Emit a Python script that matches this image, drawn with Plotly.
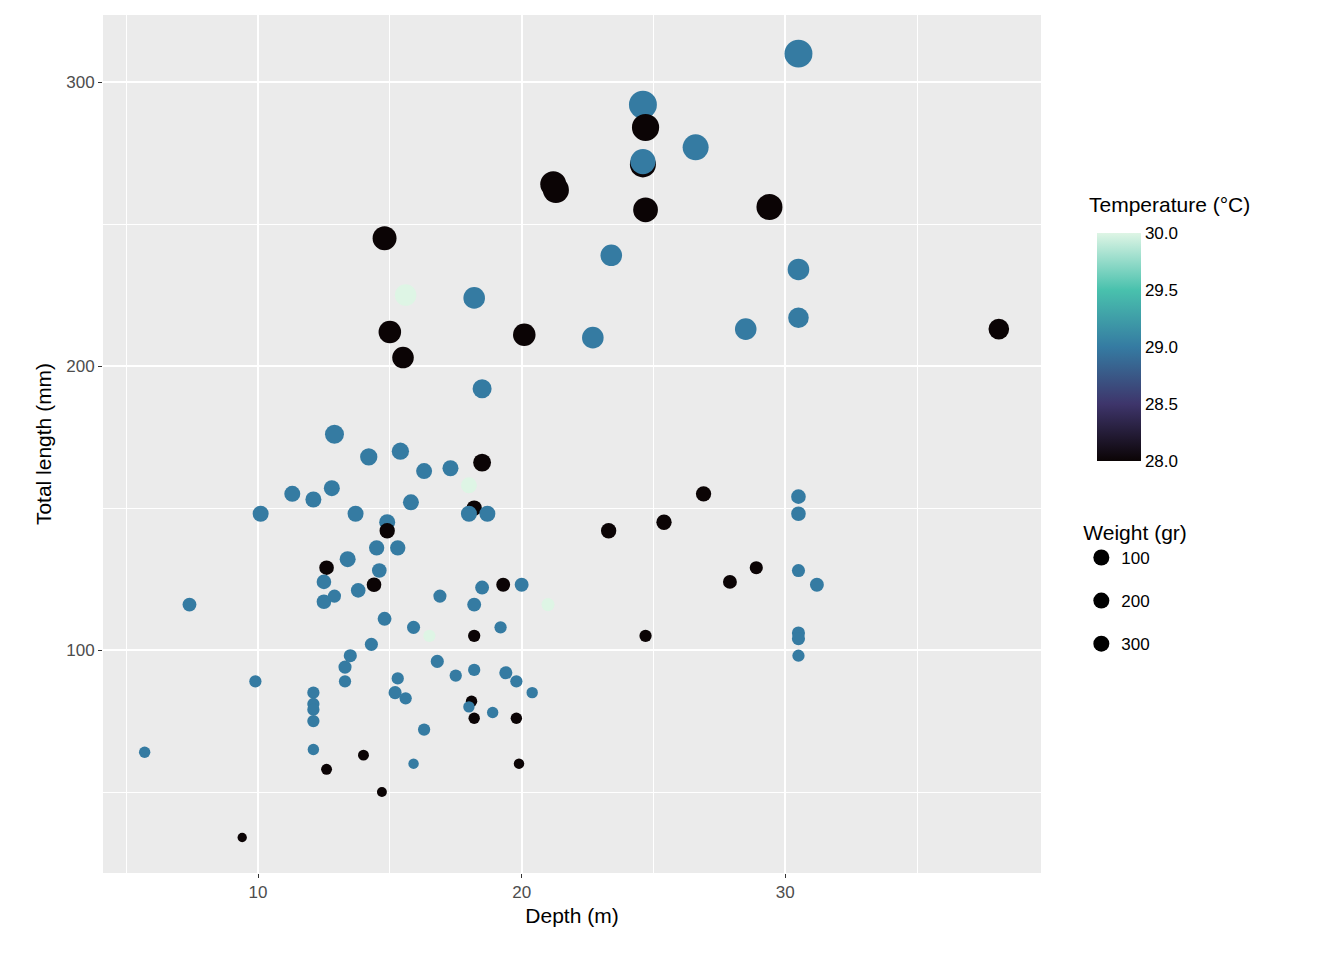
import numpy as np
import plotly.graph_objects as go

# depth (m), total length (mm), temperature (°C), weight (gr)
depth = [30.5, 24.6, 24.7, 24.6, 24.6, 26.6, 21.2, 21.3, 24.7, 29.4,
         14.8, 23.4, 30.5, 15.6, 18.2, 30.5, 28.5, 38.1, 15.0, 20.1,
         22.7, 15.5, 18.5, 12.9, 14.2, 15.4, 16.3, 17.3, 18.5, 18.0,
         11.3, 12.1, 12.8, 10.1, 13.7, 15.8, 14.9, 14.9, 18.2, 18.0,
         18.7, 26.9, 25.4, 23.3, 30.5, 30.5, 14.5, 15.3, 13.4, 12.6,
         14.6, 12.5, 14.4, 13.8, 12.5, 12.9, 7.4, 14.8, 16.9, 18.5,
         18.2, 19.3, 20.0, 21.0, 27.9, 28.9, 30.5, 31.2, 30.5, 30.5,
         30.5, 15.9, 14.3, 16.5, 18.2, 19.2, 24.7, 13.5, 13.3, 13.3,
         9.9, 16.8, 17.5, 18.2, 19.4, 19.8, 20.4, 15.3, 15.2, 15.6,
         12.1, 12.1, 12.1, 12.1, 18.1, 18.0, 18.2, 18.9, 19.8, 16.3,
         12.1, 5.7, 14.0, 12.6, 15.9, 19.9, 14.7, 9.4]
length = [310, 292, 284, 271, 272, 277, 264, 262, 255, 256,
          245, 239, 234, 225, 224, 217, 213, 213, 212, 211,
          210, 203, 192, 176, 168, 170, 163, 164, 166, 158,
          155, 153, 157, 148, 148, 152, 145, 142, 150, 148,
          148, 155, 145, 142, 154, 148, 136, 136, 132, 129,
          128, 124, 123, 121, 117, 119, 116, 111, 119, 122,
          116, 123, 123, 116, 124, 129, 128, 123, 106, 104,
          98, 108, 102, 105, 105, 108, 105, 98, 94, 89,
          89, 96, 91, 93, 92, 89, 85, 90, 85, 83,
          85, 81, 79, 75, 82, 80, 76, 78, 76, 72,
          65, 64, 63, 58, 60, 60, 50, 34]
temp = [29, 29, 28, 28, 29, 29, 28, 28, 28, 28,
        28, 29, 29, 30, 29, 29, 29, 28, 28, 28,
        29, 28, 29, 29, 29, 29, 29, 29, 28, 30,
        29, 29, 29, 29, 29, 29, 29, 28, 28, 29,
        29, 28, 28, 28, 29, 29, 29, 29, 29, 28,
        29, 29, 28, 29, 29, 29, 29, 29, 29, 29,
        29, 28, 29, 30, 28, 28, 29, 29, 29, 29,
        29, 29, 29, 30, 28, 29, 28, 29, 29, 29,
        29, 29, 29, 29, 29, 29, 29, 29, 29, 29,
        29, 29, 29, 29, 28, 29, 28, 29, 28, 29,
        29, 29, 28, 28, 29, 28, 28, 28]
weight = [350, 350, 330, 300, 280, 300, 300, 300, 270, 300,
          250, 200, 200, 200, 200, 180, 200, 180, 220, 220,
          200, 200, 150, 150, 120, 120, 100, 100, 130, 100,
          100, 100, 100, 100, 100, 100, 100, 90, 90, 100,
          100, 90, 90, 90, 80, 80, 90, 90, 100, 80,
          80, 80, 80, 80, 80, 60, 70, 70, 60, 70,
          70, 70, 70, 60, 70, 60, 60, 70, 60, 60,
          50, 60, 60, 50, 50, 50, 50, 60, 60, 50,
          50, 60, 50, 50, 60, 50, 40, 50, 60, 50,
          50, 50, 50, 50, 40, 40, 40, 40, 40, 50,
          40, 40, 35, 35, 30, 30, 25, 20]
legend_weights = [100, 200, 300]

mako = [[0.0, "#0B0405"], [0.25, "#3E356B"], [0.5, "#357BA2"],
        [0.75, "#49C1AD"], [1.0, "#DEF5E5"]]


def diam(w):
    return np.sqrt(46 + 2.1 * np.asarray(w, dtype=float))


font = "Liberation Sans"
fig = go.Figure()
fig.add_trace(go.Scatter(
    x=depth, y=length, mode="markers", showlegend=False,
    marker=dict(size=diam(weight), color=temp, colorscale=mako, cmin=28, cmax=30,
                opacity=1, line=dict(width=0),
                colorbar=dict(x=1.049, xanchor="left", y=0.613, yanchor="middle",
                              lenmode="pixels", len=228, thickness=44, outlinewidth=0,
                              tickvals=[28, 28.5, 29, 29.5, 30],
                              ticktext=["28.0", "28.5", "29.0", "29.5", "30.0"],
                              ticks="", ypad=0,
                              tickfont=dict(size=17, color="black"))),
))
for w in legend_weights:
    fig.add_trace(go.Scatter(
        x=[None], y=[None], mode="markers", name=str(w), showlegend=True,
        legendgroup=str(w),
        marker=dict(size=float(diam(w)), color="black"),
    ))

grid = dict(showgrid=True, gridcolor="white", gridwidth=1.6, zeroline=False,
            ticks="outside", ticklen=4, tickcolor="#333333",
            tickfont=dict(size=17, color="#4D4D4D"),
            minor=dict(showgrid=True, gridcolor="white", gridwidth=0.7))
fig.update_xaxes(range=[4.12, 39.7], tickvals=[10, 20, 30],
                 title=dict(text="Depth (m)", font=dict(size=21, color="black"), standoff=6),
                 **{**grid, "minor": dict(grid["minor"], tickvals=[5, 15, 25, 35])})
fig.update_yaxes(range=[21.5, 323.6], tickvals=[100, 200, 300],
                 title=dict(text="Total length (mm)", font=dict(size=21, color="black"), standoff=8),
                 **{**grid, "minor": dict(grid["minor"], tickvals=[50, 150, 250])})
fig.add_annotation(text="Temperature (°C)", xref="paper", yref="paper",
                   x=1.049, y=0.779, xanchor="left", yanchor="middle", showarrow=False,
                   font=dict(size=21, color="black"))
fig.update_layout(
    width=1344, height=960, plot_bgcolor="#EBEBEB", paper_bgcolor="white",
    font=dict(family=font),
    margin=dict(l=95, r=311, t=7, b=95),
    legend=dict(title=dict(text="Weight (gr)", font=dict(size=21, color="black")),
                x=1.043, xanchor="left", y=0.42, yanchor="top",
                font=dict(size=17, color="black"), itemsizing="trace",
                tracegroupgap=18),
)
fig.write_html("out.html")
